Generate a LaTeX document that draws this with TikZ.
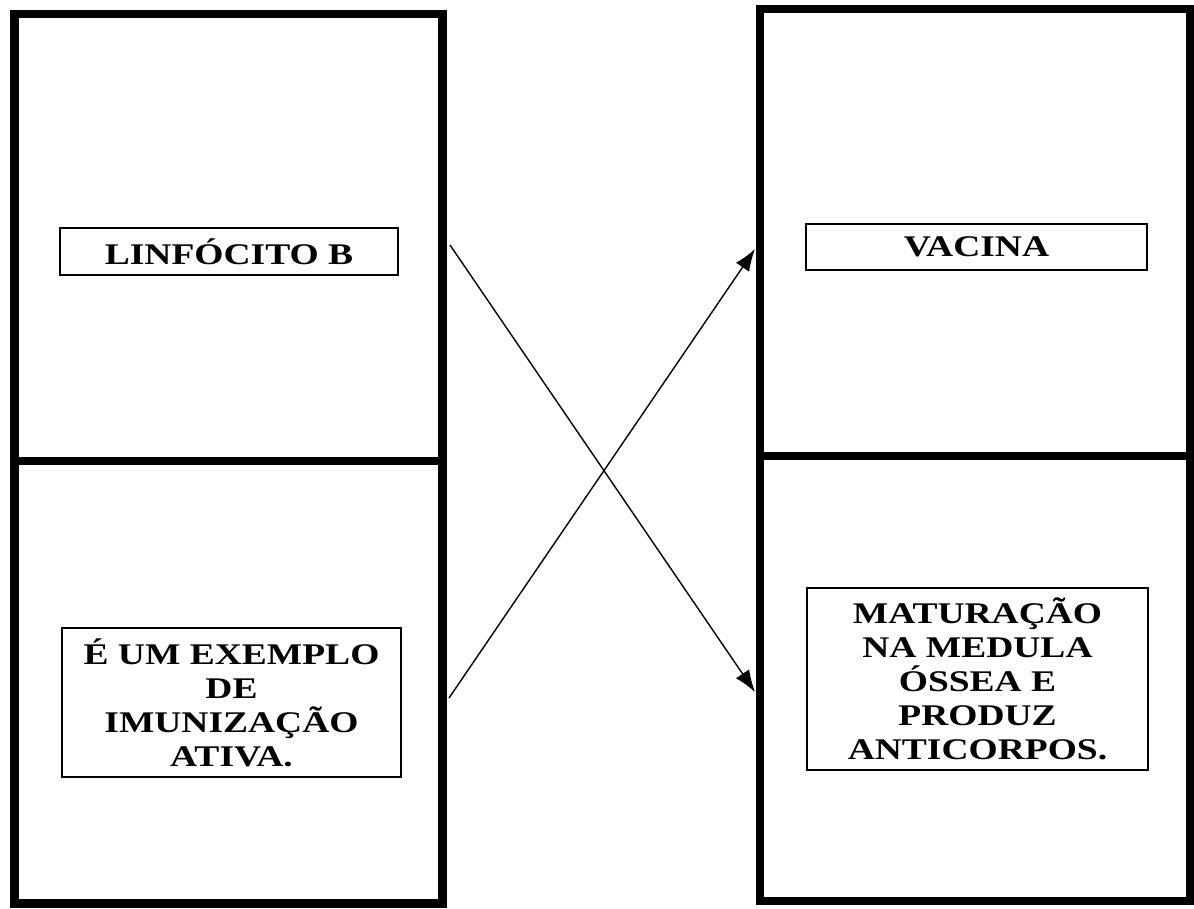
\documentclass[tikz,border=0pt]{standalone}
\usepackage{fontspec}
\setmainfont{Liberation Serif}
\newfontfamily\widefont[FakeStretch=1.25]{Liberation Serif}
\usetikzlibrary{arrows.meta}
\tikzset{
  bigbox/.style={line width=8.5pt, line join=miter},
  divider/.style={line width=8pt},
  label/.style={draw, line width=1.5pt, inner sep=0pt, align=center,
    font=\widefont\bfseries\fontsize{30}{34}\selectfont},
  link/.style={line width=1.4pt, -{Latex[length=22pt,width=16pt]}}
}
\begin{document}
\begin{tikzpicture}[x=1pt,y=-1pt]
\useasboundingbox (0,0) rectangle (1194,908);
% left frame
\draw[bigbox] (14.5,14) rectangle (442.5,903.5);
\draw[divider] (14.5,461) -- (442.5,461);
% right frame
\draw[bigbox] (760,9) rectangle (1190,901);
\draw[divider] (760,455.5) -- (1190,455.5);
% labels
\node[label, minimum width=338pt, minimum height=47pt] (linf) at (229,251.5) {LINF\'OCITO B};
\node[label, minimum width=341pt, minimum height=46pt] (vac) at (976.5,247) {VACINA};
\node[label, minimum width=339pt, minimum height=149pt] (exe) at (231.5,702.5) {\'E UM EXEMPLO\\DE\\IMUNIZA\c{C}\~AO\\ATIVA.};
\node[label, minimum width=341pt, minimum height=182pt] (mat) at (977.5,679) {MATURA\c{C}\~AO\\NA MEDULA\\\'OSSEA E\\PRODUZ\\ANTICORPOS.};
% connector ends
\coordinate (s1) at (450,245);
\coordinate (t1) at (755,692);
\coordinate (s2) at (449,698);
\coordinate (t2) at (755,249);
\draw[link] (s1) -- (t1);
\draw[link] (s2) -- (t2);
\end{tikzpicture}
\end{document}
